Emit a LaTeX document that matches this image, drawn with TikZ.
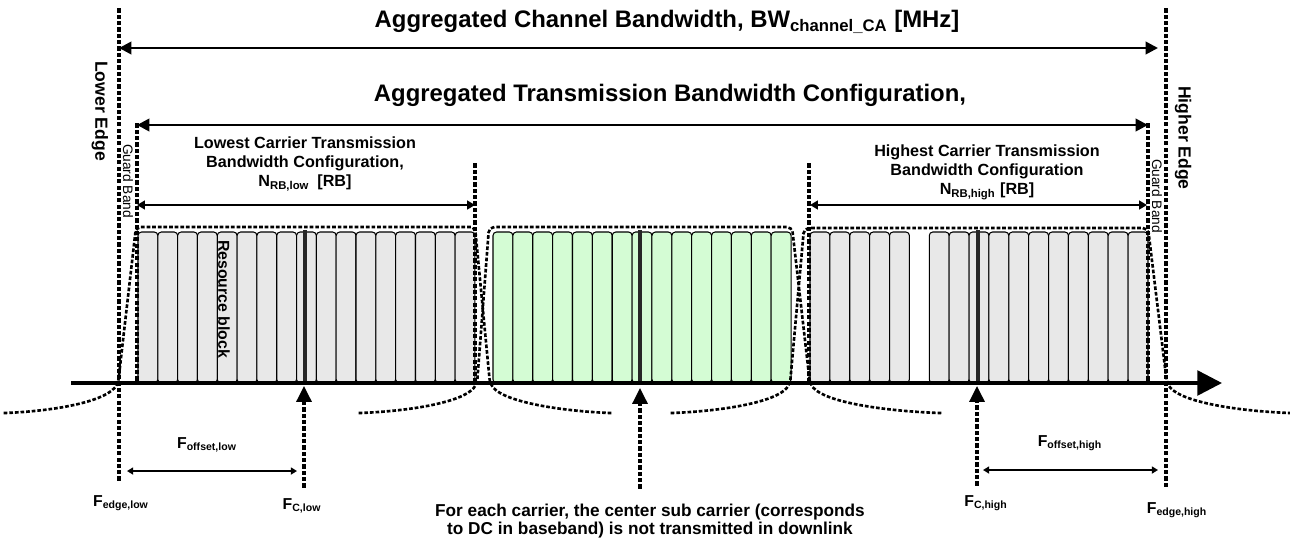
\documentclass[tikz,border=0pt]{standalone}
\usepackage{fontspec}
\setmainfont{Liberation Sans}
\usetikzlibrary{arrows.meta}

\definecolor{rbgray}{HTML}{E8E8E8}
\definecolor{rbgreen}{HTML}{D4FCD4}

\tikzset{
  dotline/.style={line width=1.8pt, line cap=rect, dash pattern=on 0.6pt off 3pt},
  envelope/.style={line width=1.5pt, line cap=rect, dash pattern=on 0.6pt off 2.6pt, rounded corners=3pt},
  rbox/.style={draw=black, line width=0.6pt, rounded corners=2pt},
  centreline/.style={line width=1.8pt, black!85},
  bigarrow/.style={line width=1.5pt, {Triangle[length=7pt,width=7pt]}-{Triangle[length=7pt,width=7pt]}},
  rbarrow/.style={line width=1.1pt, {Triangle[length=4.5pt,width=5pt]}-{Triangle[length=4.5pt,width=5pt]}},
  offarrow/.style={line width=0.9pt, {Triangle[length=3.5pt,width=4pt]}-{Triangle[length=3.5pt,width=4pt]}},
  uparrow/.style={dotline, -{Triangle[length=9pt,width=8.5pt]}},
  axisline/.style={line width=2pt, -{Triangle[length=14pt,width=14pt]}},
  bigtitle/.style={font=\fontsize{13.6}{16}\selectfont\bfseries, inner sep=1pt},
  midlbl/.style={font=\fontsize{9.2}{10.8}\selectfont\bfseries, align=center, inner sep=1pt},
  notelbl/.style={font=\fontsize{9.8}{9.8}\selectfont\bfseries, align=center, inner sep=1pt},
  edgelbl/.style={font=\fontsize{10}{12}\selectfont\bfseries, rotate=-90, inner sep=1pt},
  guardlbl/.style={font=\fontsize{7.8}{8}\selectfont, rotate=-90, inner sep=0pt},
  rblbl/.style={font=\fontsize{9}{10}\selectfont\bfseries, rotate=-90, inner sep=0pt},
  freqlbl/.style={font=\fontsize{9}{11}\selectfont\bfseries, inner sep=1pt},
}

\begin{document}
\begin{tikzpicture}[x=0.02cm, y=-0.02cm]
  \useasboundingbox (0,0) rectangle (1290,542);

  % Eckpunkte
  \coordinate (lowEdgeTop) at (119,10);
  \coordinate (lowEdgeBot) at (119,482);
  \coordinate (highEdgeTop) at (1166,10);
  \coordinate (highEdgeBot) at (1166,490);
  \coordinate (lowGuardTop) at (137,125);
  \coordinate (lowGuardBot) at (137,383);
  \coordinate (highGuardTop) at (1148,125);
  \coordinate (highGuardBot) at (1148,383);
  \coordinate (lowCfgTop) at (475,165);
  \coordinate (lowCfgBot) at (475,383);
  \coordinate (highCfgTop) at (809,165);
  \coordinate (highCfgBot) at (809,383);
  \coordinate (axisStart) at (71,383);
  \coordinate (axisEnd) at (1222,383);

  % Ressourcenbloecke
  \foreach \i in {0,...,16}
    \draw[rbox, fill=rbgray] ({138+\i*19.82},232) rectangle ({138+(\i+1)*19.82},383);
  \foreach \i in {0,...,14}
    \draw[rbox, fill=rbgreen] ({493+\i*19.87},232) rectangle ({493+(\i+1)*19.87},383);
  \foreach \i in {0,...,4,6,7,...,16}
    \draw[rbox, fill=rbgray] ({810+\i*19.88},232) rectangle ({810+(\i+1)*19.88},383);

  % Mittentraeger
  \draw[centreline] (305,230) -- (305,383);
  \draw[centreline] (640,230) -- (640,383);
  \draw[centreline] (978,230) -- (978,383);

  % Spektrum
  \draw[envelope] (5,413) .. controls (55,411) and (102,402) .. (118,384)
    -- (136,227) -- (475,227) -- (490,384)
    .. controls (506,402) and (560,411) .. (610,413);
  \draw[envelope] (360,413) .. controls (412,411) and (462,402) .. (477,384)
    -- (489,227) -- (792,227) -- (810,384)
    .. controls (826,402) and (882,411) .. (940,413);
  \draw[envelope] (672,413) .. controls (724,411) and (775,402) .. (790,384)
    -- (804,228) -- (1148,228) -- (1167,384)
    .. controls (1183,402) and (1236,411) .. (1290,413);

  % Begrenzungslinien
  \draw[dotline] (lowEdgeTop) -- (lowEdgeBot);
  \draw[dotline] (highEdgeTop) -- (highEdgeBot);
  \draw[dotline] (lowGuardTop) -- (lowGuardBot);
  \draw[dotline] (highGuardTop) -- (highGuardBot);
  \draw[dotline] (lowCfgTop) -- (lowCfgBot);
  \draw[dotline] (highCfgTop) -- (highCfgBot);

  % Frequenzachse
  \draw[axisline] (axisStart) -- (axisEnd);

  % Bandbreitenpfeile
  \coordinate (bwL) at (119,48);
  \coordinate (bwR) at (1158,48);
  \coordinate (tbwL) at (137,125);
  \coordinate (tbwR) at (1148,125);
  \coordinate (nLowL) at (137,205);
  \coordinate (nLowR) at (475,205);
  \coordinate (nHighL) at (810,205);
  \coordinate (nHighR) at (1147,205);
  \draw[bigarrow] (bwL) -- (bwR);
  \draw[bigarrow] (tbwL) -- (tbwR);
  \draw[rbarrow] (nLowL) -- (nLowR);
  \draw[rbarrow] (nHighL) -- (nHighR);

  % Offsets und Traegerpfeile
  \coordinate (offLowL) at (127,471);
  \coordinate (offLowR) at (297,471);
  \coordinate (offHighL) at (983,470);
  \coordinate (offHighR) at (1158,470);
  \draw[offarrow] (offLowL) -- (offLowR);
  \draw[offarrow] (offHighL) -- (offHighR);
  \coordinate (fcLowBot) at (304,486);
  \coordinate (fcLowTop) at (304,386);
  \coordinate (dcBot) at (640,487);
  \coordinate (dcTop) at (640,388);
  \coordinate (fcHighBot) at (977,484);
  \coordinate (fcHighTop) at (977,386);
  \draw[uparrow] (fcLowBot) -- (fcLowTop);
  \draw[uparrow] (dcBot) -- (dcTop);
  \draw[uparrow] (fcHighBot) -- (fcHighTop);

  % Beschriftungen
  \node (bwTitle) [bigtitle] at (667,22) {Aggregated Channel Bandwidth, BW\textsubscript{channel\_CA} [MHz]};
  \node (tbwTitle) [bigtitle] at (670,95) {Aggregated Transmission Bandwidth Configuration,};
  \node (lowCfg) [midlbl] at (305,164) {Lowest Carrier Transmission\\Bandwidth Configuration,\\N\textsubscript{RB,low}\enspace[RB]};
  \node (highCfg) [midlbl] at (987,172) {Highest Carrier Transmission\\Bandwidth Configuration\\N\textsubscript{RB,high} [RB]};
  \node (lowEdge) [edgelbl] at (100,111) {Lower Edge};
  \node (highEdge) [edgelbl] at (1183,138) {Higher Edge};
  \node (lowGuard) [guardlbl] at (128,181) {Guard Band};
  \node (highGuard) [guardlbl] at (1157,196) {Guard Band};
  \node (rbLbl) [rblbl] at (224,299) {Resource block};
  \node (offLow) [freqlbl] at (207,445) {F\textsubscript{offset,low}};
  \node (offHigh) [freqlbl] at (1070,443) {F\textsubscript{offset,high}};
  \node (fEdgeLow) [freqlbl] at (121,503) {F\textsubscript{edge,low}};
  \node (fcLow) [freqlbl] at (302,506) {F\textsubscript{C,low}};
  \node (fcHigh) [freqlbl] at (986,503) {F\textsubscript{C,high}};
  \node (fEdgeHigh) [freqlbl] at (1177,510) {F\textsubscript{edge,high}};
  \node (dcNote) [notelbl] at (650,521) {For each carrier, the center sub carrier (corresponds\\to DC in baseband) is not transmitted in downlink};
\end{tikzpicture}
\end{document}
